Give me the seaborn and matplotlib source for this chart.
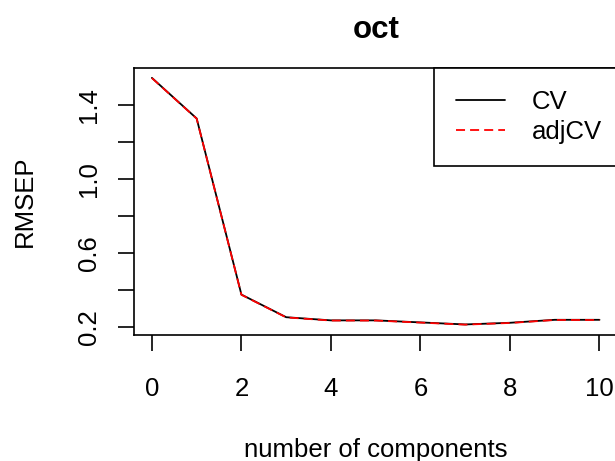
import matplotlib
matplotlib.use("Agg")
import matplotlib.pyplot as plt
import numpy as np
import pandas as pd
import seaborn as sns

# ---- data ----
components = list(range(11))
cv_values = [1.546, 1.327, 0.377, 0.255, 0.238, 0.238, 0.227, 0.216, 0.225, 0.241, 0.241]
adjcv_values = [1.545, 1.326, 0.376, 0.254, 0.237, 0.237, 0.226, 0.215, 0.224, 0.240, 0.240]
series_names = ["CV", "adjCV"]
series_colors = ["black", "red"]
x_ticks = [0, 2, 4, 6, 8, 10]
y_ticks = [0.2, 0.4, 0.6, 0.8, 1.0, 1.2, 1.4]
y_tick_labels = ["0.2", "", "0.6", "", "1.0", "", "1.4"]
title_text = "oct"
x_label = "number of components"
y_label = "RMSEP"

df = pd.DataFrame({
    "component": components * 2,
    "RMSEP": cv_values + adjcv_values,
    "series": [series_names[0]] * len(components) + [series_names[1]] * len(components),
})

sns.set_style("ticks")
plt.rcParams["font.family"] = ["Liberation Sans", "DejaVu Sans"]
plt.rcParams["text.color"] = "black"
plt.rcParams["axes.labelcolor"] = "black"
plt.rcParams["xtick.color"] = "black"
plt.rcParams["ytick.color"] = "black"

W, H = 615, 461
fig = plt.figure(figsize=(W / 100, H / 100), dpi=100)

# axes geometry in pixels (R-style plot region)
AX_L, AX_T, AX_B, AX_W = 134.0, 68.0, 334.5, 483.4
AX_H = AX_B - AX_T
ax = fig.add_axes([AX_L / W, 1 - AX_B / H, AX_W / W, AX_H / H])

FS = 18.5
LW = 1.3
FRAME_LW = 1.2
TICK_LEN = 11.5

sns.lineplot(
    data=df, x="component", y="RMSEP", hue="series", style="series",
    hue_order=series_names, style_order=series_names,
    palette=dict(zip(series_names, series_colors)),
    dashes={series_names[0]: "", series_names[1]: (5.0, 2.8)},
    linewidth=LW, ax=ax, legend=False,
)

# R-style 4% range extension
xr = max(components) - min(components)
ax.set_xlim(min(components) - 0.04 * xr, max(components) + 0.04 * xr)
allv = cv_values + adjcv_values
yr = max(allv) - min(allv)
ax.set_ylim(min(allv) - 0.04 * yr, max(allv) + 0.04 * yr)

ax.set_xticks(x_ticks)
ax.set_xticklabels([str(t) for t in x_ticks])
ax.set_yticks(y_ticks)
ax.set_yticklabels(y_tick_labels, rotation=90, va="center")

ax.tick_params(direction="out", length=TICK_LEN, width=FRAME_LW, color="black",
               labelsize=FS, labelcolor="black")
ax.tick_params(axis="x", pad=19.0)
ax.tick_params(axis="y", pad=12.0)

for sp in ax.spines.values():
    sp.set_visible(True)
    sp.set_color("black")
    sp.set_linewidth(FRAME_LW)

ax.set_title(title_text, fontsize=22.5, fontweight="bold", va="baseline",
             y=(AX_B - 38) / AX_H, pad=0)
ax.set_xlabel(x_label, fontsize=FS, va="baseline")
ax.xaxis.set_label_coords(0.5, (AX_B - 457) / AX_H)
ax.set_ylabel(y_label, fontsize=FS, va="baseline")
ax.yaxis.set_label_coords((32 - AX_L) / AX_W, 0.5)

handles = list(ax.lines[:len(series_names)])
leg = ax.legend(
    handles, series_names, loc="upper left",
    bbox_to_anchor=(434 / W, 1 - 68 / H), bbox_transform=fig.transFigure,
    borderaxespad=0, fontsize=FS, frameon=True, fancybox=False,
    edgecolor="black", framealpha=1, borderpad=0.85, labelspacing=0.25,
    handlelength=1.92, handletextpad=1.05,
)
leg.get_frame().set_linewidth(FRAME_LW)

fig.savefig("out.png", dpi=100)
